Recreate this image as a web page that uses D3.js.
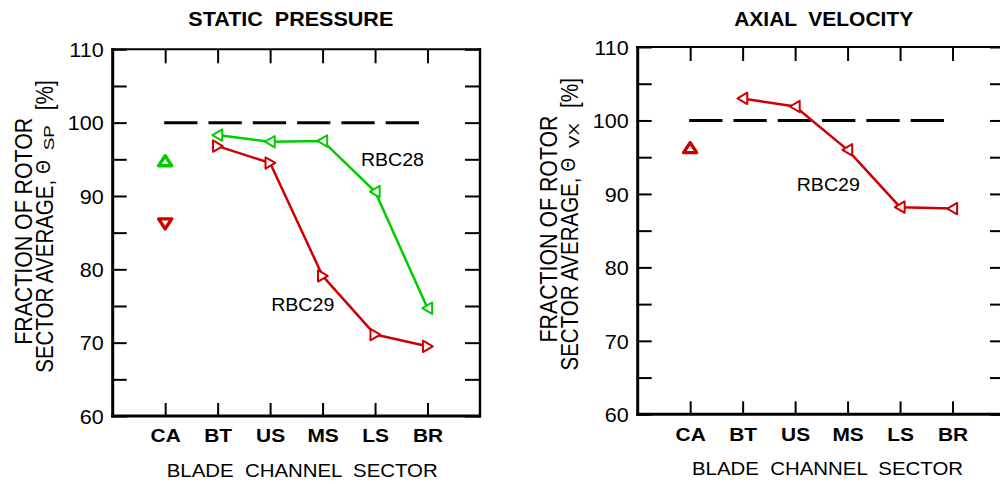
<!DOCTYPE html>
<html><head><meta charset="utf-8">
<script src="https://cdn.jsdelivr.net/npm/d3@7"></script>
<style>
body{margin:0;background:#fff}
svg{display:block}
text{font-family:"Liberation Sans",Arial,Helvetica,sans-serif;fill:#000;white-space:pre}
</style>
</head><body>
<svg id="chart" width="1000" height="484"></svg>
<script>
// ---------------- data ----------------
const categories = ["CA", "BT", "US", "MS", "LS", "BR"];
const lineCategories = ["BT", "US", "MS", "LS", "BR"];
const spRBC28 = [98.3, 97.4, 97.5, 90.6, 74.7];
const spRBC29 = [96.8, 94.5, 79.1, 71.1, 69.5];
const spCA_RBC28 = 94.8;
const spCA_RBC29 = 86.2;
const vxRBC29 = [103.0, 101.9, 96.0, 88.2, 88.0];
const vxCA_RBC29 = 96.3;
const yTickValues = [60, 65, 70, 75, 80, 85, 90, 95, 100, 105, 110];
const yTickLabels = [60, 70, 80, 90, 100, 110];
const referenceLevel = 100;
const yDomain = [60, 110];
const titles = ["STATIC  PRESSURE", "AXIAL  VELOCITY"];
const xTitle = "BLADE  CHANNEL  SECTOR";
const yTitleLine1 = "FRACTION OF ROTOR";
const yTitleLine2 = "SECTOR AVERAGE,";
const thetaSubs = ["SP", "VX"];

// ---------------- styles ----------------
const GREEN = "#00cc00", RED = "#cc0000";
const SX = 1.1; // horizontal glyph stretch of the original figure

const svg = d3.select("#chart");

function catIndex(c) { return categories.indexOf(c) + 1; }

function drawPanel(cfg) {
  const g = svg.append("g").attr("transform", `translate(${cfg.left},${cfg.top})`);
  const W = cfg.width, H = cfg.height;
  const x = d3.scaleLinear().domain([0, categories.length + 1]).range([0, W]);
  const y = d3.scaleLinear().domain(yDomain).range([H, 0]);

  // axes (ticks inward)
  const left = d3.axisLeft(y).tickValues(yTickValues).tickSize(-14).tickSizeOuter(0).tickPadding(9)
    .tickFormat(d => yTickLabels.includes(d) ? d : "");
  const right = d3.axisRight(y).tickValues(yTickValues).tickSize(-15).tickSizeOuter(0).tickFormat("");
  const bottom = d3.axisBottom(x).tickValues(categories.map((c, i) => i + 1)).tickSize(-13).tickSizeOuter(0)
    .tickFormat(i => categories[i - 1]);
  const top = d3.axisTop(x).tickValues(categories.map((c, i) => i + 1)).tickSize(-14).tickSizeOuter(0).tickFormat("");

  const aL = g.append("g").call(left);
  const aR = g.append("g").attr("transform", `translate(${W},0)`).call(right);
  const aB = g.append("g").attr("transform", `translate(0,${H})`).call(bottom);
  const aT = g.append("g").call(top);
  [aL, aR, aB, aT].forEach(a => {
    a.select(".domain").remove();
    a.selectAll(".tick line").attr("stroke", "#000").attr("stroke-width", 2);
    a.attr("font-family", null).attr("font-size", null);
  });
  aL.selectAll(".tick text").attr("font-size", 20).attr("dy", "0.36em")
    .attr("x", -9 / 1.08).attr("transform", "scale(1.08,1)");
  aB.selectAll(".tick text").attr("font-size", 19).attr("font-weight", "bold").attr("y", 26.5).attr("dy", 0)
    .attr("transform", `scale(${SX},1)`);

  // frame
  g.append("line").attr("x1", 0).attr("x2", 0).attr("y1", -1).attr("y2", H + 1.5).attr("stroke", "#000").attr("stroke-width", 3);
  g.append("line").attr("x1", -1.5).attr("x2", W + 1).attr("y1", H).attr("y2", H).attr("stroke", "#000").attr("stroke-width", 3);
  g.append("line").attr("x1", -1.5).attr("x2", W + 1).attr("y1", 0).attr("y2", 0).attr("stroke", "#000").attr("stroke-width", 2);
  g.append("line").attr("x1", W).attr("x2", W).attr("y1", -1).attr("y2", H + 1.5).attr("stroke", "#000").attr("stroke-width", 2.4);

  // reference dashed line
  g.append("line")
    .attr("x1", x(catIndex("CA")) - 1).attr("x2", x(catIndex("BR")) + 1)
    .attr("y1", y(referenceLevel)).attr("y2", y(referenceLevel))
    .attr("stroke", "#000").attr("stroke-width", 3).attr("stroke-dasharray", "33.3 11");

  // series
  cfg.series.forEach(s => {
    const pts = lineCategories.map((c, i) => [x(catIndex(c)), y(s.values[i])]);
    g.append("path").attr("d", d3.line()(pts)).attr("fill", "none")
      .attr("stroke", s.color).attr("stroke-width", 2.5).attr("stroke-linejoin", "round");
    const tri = s.dir === "left" ? "M-5.2,0L4.6,-5.7L4.6,5.7Z" : "M5.2,0L-4.6,-5.7L-4.6,5.7Z";
    g.selectAll(null).data(pts).enter().append("path")
      .attr("d", tri).attr("transform", d => `translate(${d[0]},${d[1]})`)
      .attr("fill", "#fff").attr("stroke", s.color).attr("stroke-width", 2).attr("stroke-linejoin", "round");
  });

  // CA markers
  cfg.caMarkers.forEach(m => {
    const tri = m.dir === "up" ? "M0,-5L6.5,5L-6.5,5Z" : "M0,5L6.5,-5L-6.5,-5Z";
    g.append("path").attr("d", tri)
      .attr("transform", `translate(${x(catIndex("CA"))},${y(m.value)})`)
      .attr("fill", "#fff").attr("stroke", m.color).attr("stroke-width", 3.4).attr("stroke-linejoin", "round");
  });

  // annotations
  cfg.annotations.forEach(a => {
    g.append("text").attr("transform", `translate(${x(a.xi)},${y(a.v)}) scale(1.12,1)`)
      .attr("font-size", 17.5).text(a.text);
  });

  // title
  svg.append("text").attr("x", cfg.titleX).attr("y", 26).attr("text-anchor", "middle")
    .attr("font-size", 19.5).attr("font-weight", "bold")
    .attr("textLength", cfg.titleLen).attr("lengthAdjust", "spacingAndGlyphs").text(cfg.title);

  // x title
  svg.append("text").attr("x", cfg.xTitleX).attr("y", cfg.top + H + 61).attr("text-anchor", "middle")
    .attr("font-size", 19).attr("textLength", 271).attr("lengthAdjust", "spacingAndGlyphs").text(xTitle);

  // y title (two rotated lines; glyphs stretched across the line like the original)
  const l1 = svg.append("g").attr("transform", `translate(${cfg.left - 81},${cfg.top + 182}) rotate(-90) scale(1,${SX})`);
  l1.append("text").attr("x", 0).attr("y", 0).attr("text-anchor", "middle").attr("font-size", 21.3)
    .attr("textLength", 227).attr("lengthAdjust", "spacingAndGlyphs").text(yTitleLine1);
  const l2 = svg.append("g").attr("transform", `translate(${cfg.left - 59.5},${cfg.top}) rotate(-90) scale(1,${SX})`);
  l2.append("text").attr("x", -(323.5)).attr("y", 0).attr("font-size", 21.3)
    .attr("textLength", 193).attr("lengthAdjust", "spacingAndGlyphs").text(yTitleLine2);
  l2.append("text").attr("x", -124.5).attr("y", -3).attr("font-size", 18.5)
    .attr("textLength", 13.5).attr("lengthAdjust", "spacingAndGlyphs").text("\u0398");
  l2.append("text").attr("x", -101).attr("y", 0.5).attr("font-size", 14)
    .attr("textLength", 25).attr("lengthAdjust", "spacingAndGlyphs").text(cfg.sub);
  l2.append("text").attr("x", -61).attr("y", 0).attr("font-size", 21.3)
    .attr("textLength", 30).attr("lengthAdjust", "spacingAndGlyphs").text("[%]");
}

drawPanel({
  left: 112.7, top: 49.3, width: 367.3, height: 366.7,
  title: titles[0], titleX: 290.8, titleLen: 205, xTitleX: 302.2, sub: thetaSubs[0],
  series: [
    { values: spRBC28, color: GREEN, dir: "left" },
    { values: spRBC29, color: RED, dir: "right" }
  ],
  caMarkers: [
    { value: spCA_RBC28, color: GREEN, dir: "up" },
    { value: spCA_RBC29, color: RED, dir: "down" }
  ],
  annotations: [
    { text: "RBC28", xi: 4.73, v: 94.1 },
    { text: "RBC29", xi: 3.02, v: 74.3 }
  ]
});

drawPanel({
  left: 637.7, top: 47, width: 367.3, height: 367.3,
  title: titles[1], titleX: 823.7, titleLen: 179, xTitleX: 827.5, sub: thetaSubs[1],
  series: [
    { values: vxRBC29, color: RED, dir: "left" }
  ],
  caMarkers: [
    { value: vxCA_RBC29, color: RED, dir: "up" }
  ],
  annotations: [
    { text: "RBC29", xi: 3.03, v: 90.44 }
  ]
});
</script>
</body></html>
